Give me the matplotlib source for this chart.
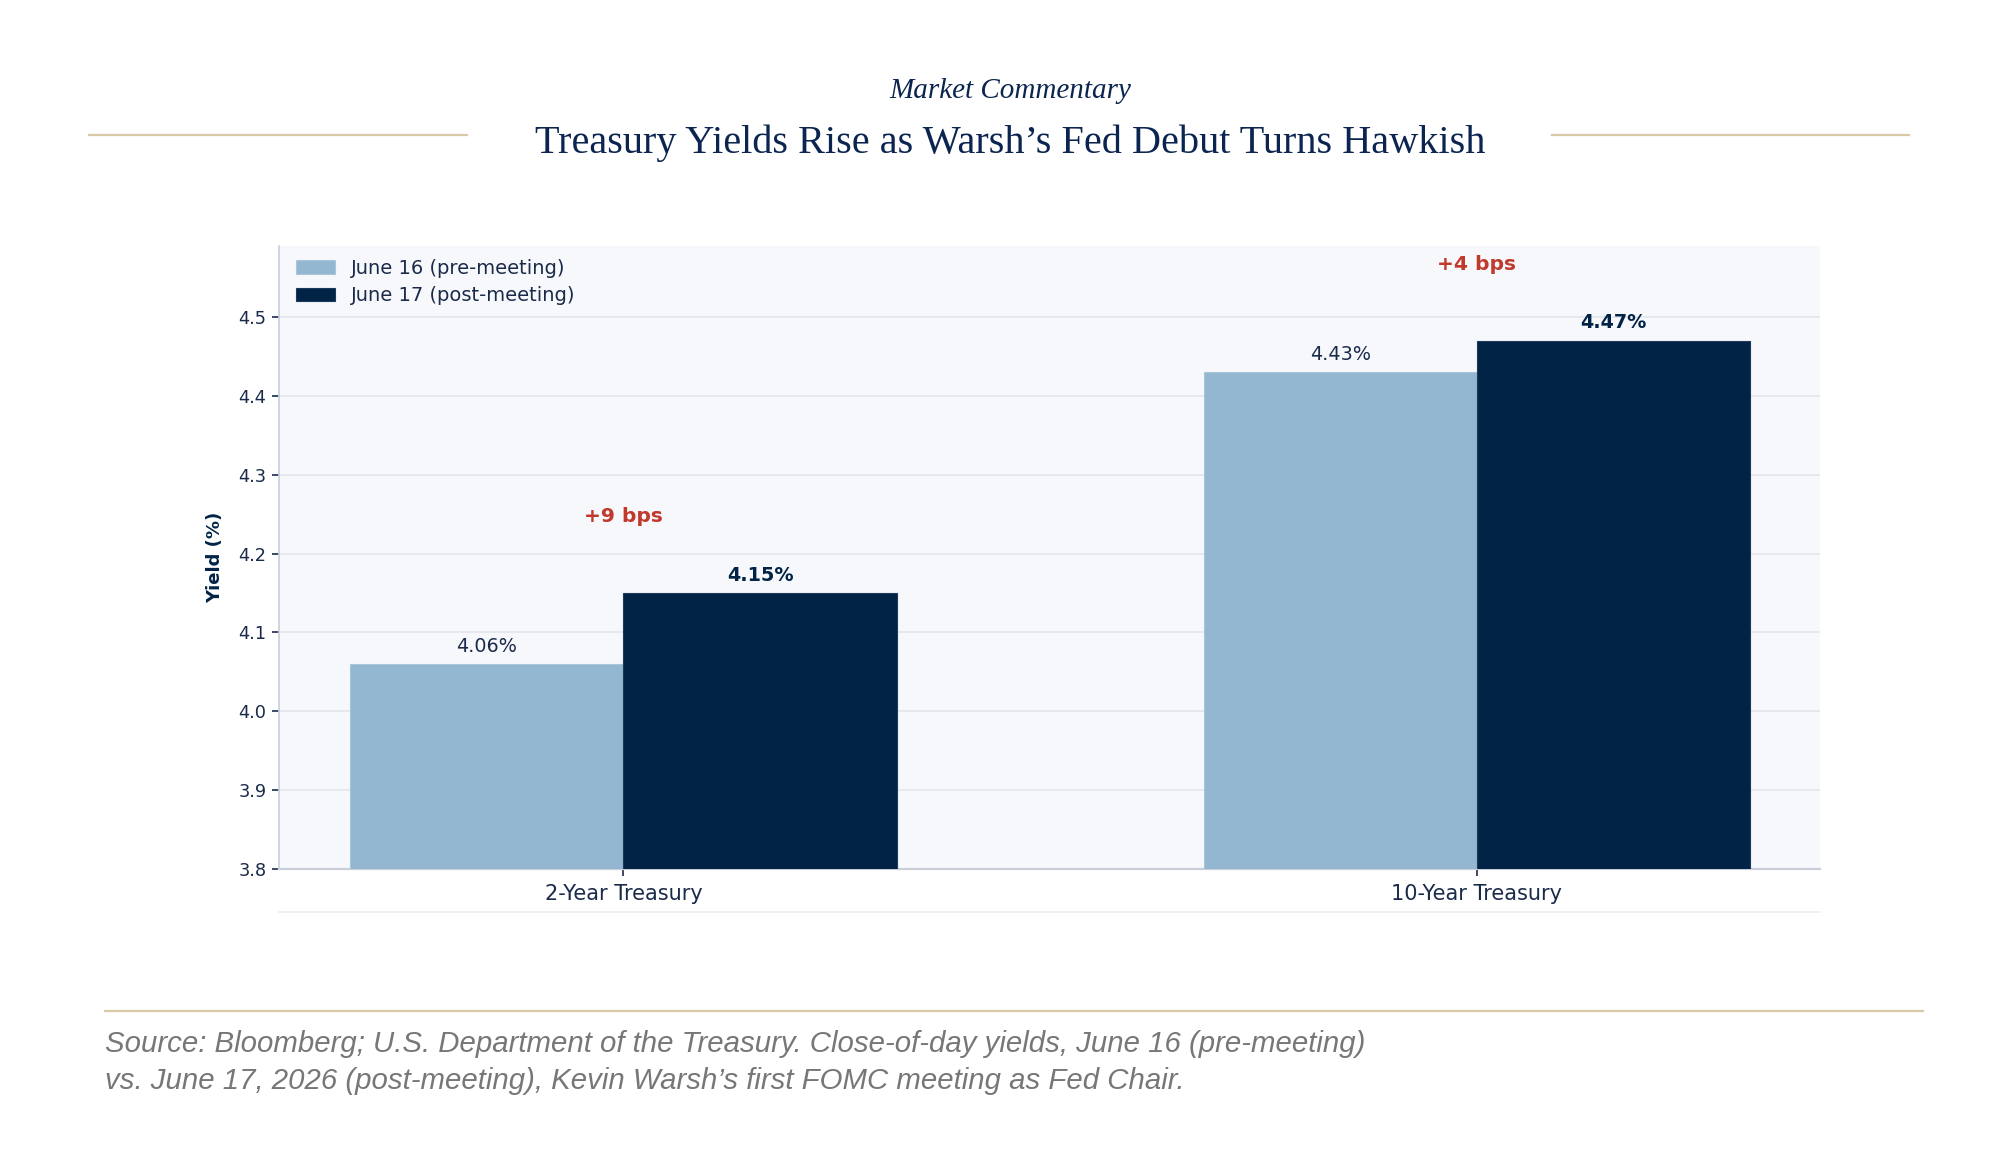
import matplotlib.pyplot as plt
import numpy as np

categories = ['2-Year Treasury', '10-Year Treasury']
pre_meeting = [4.06, 4.43]
post_meeting = [4.15, 4.47]
change_bps = [9, 4]
series_labels = ['June 16 (pre-meeting)', 'June 17 (post-meeting)']

light = '#93b7d1'
dark = '#012346'
navy = '#0b2550'
gold = '#d9c9a6'
red = '#c0392b'

fig = plt.figure(figsize=(10, 5.84), dpi=200)
fig.patch.set_facecolor('white')

# header
fig.text(0.505, 0.9225, 'Market Commentary', ha='center', va='center',
         family='Liberation Serif', style='italic', fontsize=10.5, color=navy)
fig.text(0.505, 0.8775, 'Treasury Yields Rise as Warsh\u2019s Fed Debut Turns Hawkish',
         ha='center', va='center', family='Liberation Serif', fontsize=14.5, color=navy)
fig.add_artist(plt.Line2D([0.0446, 0.2334], [0.8844, 0.8844], color=gold, lw=0.8))
fig.add_artist(plt.Line2D([0.776, 0.9545], [0.8844, 0.8844], color=gold, lw=0.8))

ax = fig.add_axes([0.1395, 0.256, 0.7705, 0.5334])
ax.set_facecolor('#f7f8fc')

x = np.arange(len(categories))
w = 0.32
b1 = ax.bar(x - w / 2, pre_meeting, w, color=light, edgecolor='#a9c6da', linewidth=0.4,
            label=series_labels[0], zorder=3)
b2 = ax.bar(x + w / 2, post_meeting, w, color=dark, edgecolor='#1b3a5c', linewidth=0.4,
            label=series_labels[1], zorder=3)

for i in range(len(categories)):
    ax.annotate('{:.2f}%'.format(pre_meeting[i]), (x[i] - w / 2, pre_meeting[i]),
                xytext=(0, 3), textcoords='offset points', ha='center', va='bottom',
                fontsize=6.9, color='#1a2b4a')
    ax.annotate('{:.2f}%'.format(post_meeting[i]), (x[i] + w / 2, post_meeting[i]),
                xytext=(0, 3), textcoords='offset points', ha='center', va='bottom',
                fontsize=6.9, color=dark, fontweight='bold')
    top = max(pre_meeting[i], post_meeting[i])
    ax.text(x[i], top + 0.097, '+{} bps'.format(change_bps[i]), ha='center', va='center',
            fontsize=7.3, color=red, fontweight='bold')

ax.set_xlim(-0.4036, 1.402)
ax.set_ylim(3.8, 4.59)
ax.set_yticks([3.8, 3.9, 4.0, 4.1, 4.2, 4.3, 4.4, 4.5])
ax.set_xticks(x)
ax.set_xticklabels(categories)
ax.tick_params(axis='x', labelsize=7.5, colors='#1a2b4a', length=2.5, width=0.6, pad=3)
ax.tick_params(axis='y', labelsize=6.4, colors='#1a2b4a', length=2.5, width=0.6, pad=2)
ax.set_ylabel('Yield (%)', fontsize=6.5, fontweight='bold', color=dark, labelpad=5)
ax.grid(axis='y', color='#e3e5ec', linewidth=0.6, zorder=0)

for s in ['top', 'right']:
    ax.spines[s].set_visible(False)
ax.spines['left'].set_color('#c5cedb')
ax.spines['left'].set_linewidth(0.6)
ax.spines['bottom'].set_color('#c9ced8')
ax.spines['bottom'].set_linewidth(0.8)

leg = ax.legend(loc='upper left', frameon=False, fontsize=7, handlelength=2.0,
                handleheight=0.7, borderaxespad=0.25, labelspacing=0.45, handletextpad=0.8,
                bbox_to_anchor=(0.003, 1.0))
for t in leg.get_texts():
    t.set_color('#1a2b4a')

# faint line under chart
fig.add_artist(plt.Line2D([0.1395, 0.91], [0.219, 0.219], color='#eceef3', lw=0.6))

# footer
fig.add_artist(plt.Line2D([0.0523, 0.9617], [0.1344, 0.1344], color=gold, lw=0.8))
fig.text(0.0525, 0.1062,
         'Source: Bloomberg; U.S. Department of the Treasury. Close-of-day yields, June 16 (pre-meeting)',
         ha='left', va='center', family='Liberation Sans', style='italic', fontsize=10.6, color='#777777')
fig.text(0.0525, 0.0748,
         'vs. June 17, 2026 (post-meeting), Kevin Warsh\u2019s first FOMC meeting as Fed Chair.',
         ha='left', va='center', family='Liberation Sans', style='italic', fontsize=10.6, color='#777777')

fig.savefig('out.png', dpi=200)
